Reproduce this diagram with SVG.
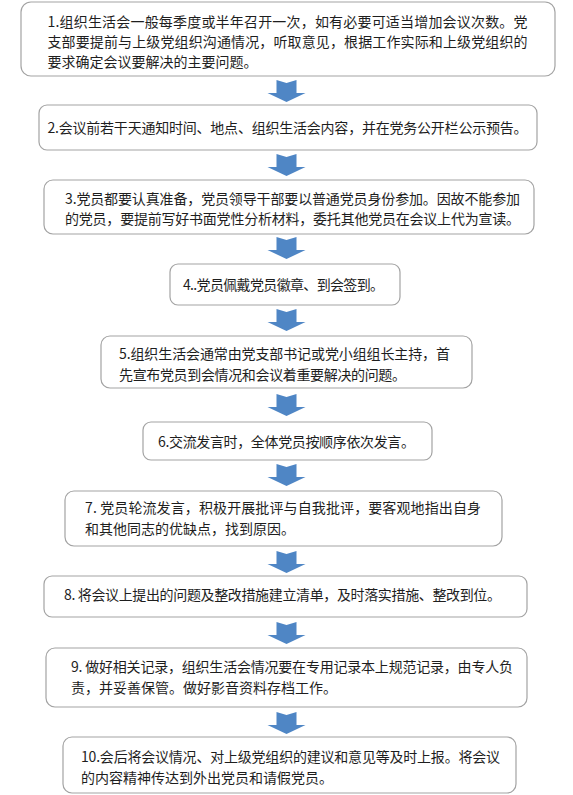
<svg xmlns="http://www.w3.org/2000/svg" xmlns:xlink="http://www.w3.org/1999/xlink" width="573" height="795" viewBox="0 0 573 795">
<style>
.box{fill:#ffffff;stroke:#a3a3a3;stroke-width:1.2}
.t{font-family:"Noto Sans CJK SC","Noto Sans",sans-serif;font-size:14px;fill:#1e1e1e}
.arr{fill:#4f86c5}
</style>
<defs>
<path id="arrow" class="arr" d="M-10,0 L0,3 L10,0 L10,13 L19,13 L0,22 L-19,13 L-10,13 Z"/>
</defs>
<rect width="573" height="795" fill="#ffffff"/>
<g id="connectors">
<use xlink:href="#arrow" x="286.5" y="80"/>
<use xlink:href="#arrow" x="286.5" y="154"/>
<use xlink:href="#arrow" x="286.5" y="237"/>
<use xlink:href="#arrow" x="286.5" y="309"/>
<use xlink:href="#arrow" x="286.5" y="394"/>
<use xlink:href="#arrow" x="286.5" y="464"/>
<use xlink:href="#arrow" x="286.5" y="551"/>
<use xlink:href="#arrow" x="286.5" y="622"/>
<use xlink:href="#arrow" x="286.5" y="712"/>
</g>
<g id="node1">
<rect class="box" x="21" y="2" width="534" height="74" rx="10"/>
<text class="t" x="47.5" y="27" textLength="480" lengthAdjust="spacing">1.组织生活会一般每季度或半年召开一次，如有必要可适当增加会议次数。党</text>
<text class="t" x="47.5" y="47" textLength="480" lengthAdjust="spacing">支部要提前与上级党组织沟通情况，听取意见，根据工作实际和上级党组织的</text>
<text class="t" x="47.5" y="67">要求确定会议要解决的主要问题。</text>
</g>
<g id="node2">
<rect class="box" x="39" y="105" width="498" height="45" rx="8"/>
<text class="t" x="47.5" y="133" textLength="480" lengthAdjust="spacing">2.会议前若干天通知时间、地点、组织生活会内容，并在党务公开栏公示预告。</text>
</g>
<g id="node3">
<rect class="box" x="44" y="180" width="490" height="54" rx="9"/>
<text class="t" x="65" y="204" textLength="455" lengthAdjust="spacing">3.党员都要认真准备，党员领导干部要以普通党员身份参加。因故不能参加</text>
<text class="t" x="65" y="224" textLength="455" lengthAdjust="spacing">的党员，要提前写好书面党性分析材料，委托其他党员在会议上代为宣读。</text>
</g>
<g id="node4">
<rect class="box" x="170" y="264" width="230" height="41" rx="8"/>
<text class="t" x="183" y="290" textLength="201" lengthAdjust="spacing">4..党员佩戴党员徽章、到会签到。</text>
</g>
<g id="node5">
<rect class="box" x="101" y="336" width="371" height="52" rx="9"/>
<text class="t" x="119" y="359" textLength="331" lengthAdjust="spacing">5.组织生活会通常由党支部书记或党小组组长主持，首</text>
<text class="t" x="119" y="380" textLength="287" lengthAdjust="spacing">先宣布党员到会情况和会议着重要解决的问题。</text>
</g>
<g id="node6">
<rect class="box" x="143" y="422" width="289" height="38" rx="8"/>
<text class="t" x="158" y="447" textLength="257" lengthAdjust="spacing">6.交流发言时，全体党员按顺序依次发言。</text>
</g>
<g id="node7">
<rect class="box" x="65" y="491" width="437" height="55" rx="9"/>
<text class="t" x="85" y="513" textLength="396" lengthAdjust="spacing">7. 党员轮流发言，积极开展批评与自我批评，要客观地指出自身</text>
<text class="t" x="85" y="534">和其他同志的优缺点，找到原因。</text>
</g>
<g id="node8">
<rect class="box" x="44" y="576" width="483" height="41" rx="8"/>
<text class="t" x="64" y="600" textLength="437" lengthAdjust="spacing">8. 将会议上提出的问题及整改措施建立清单，及时落实措施、整改到位。</text>
</g>
<g id="node9">
<rect class="box" x="46" y="648" width="481" height="59" rx="9"/>
<text class="t" x="71" y="672" textLength="442" lengthAdjust="spacing">9. 做好相关记录，组织生活会情况要在专用记录本上规范记录，由专人负</text>
<text class="t" x="71" y="693">责，并妥善保管。做好影音资料存档工作。</text>
</g>
<g id="node10">
<rect class="box" x="63" y="737" width="453" height="56" rx="9"/>
<text class="t" x="81" y="762" textLength="419" lengthAdjust="spacing">10.会后将会议情况、对上级党组织的建议和意见等及时上报。将会议</text>
<text class="t" x="81" y="783">的内容精神传达到外出党员和请假党员。</text>
</g>
</svg>
